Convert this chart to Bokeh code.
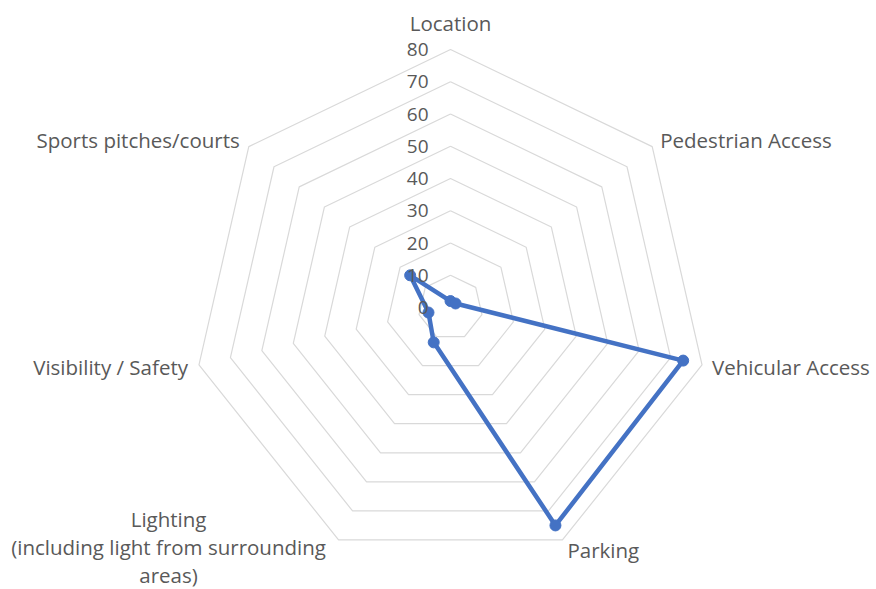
import math
from bokeh.plotting import figure
from bokeh.models import Range1d
from bokeh.core.properties import value
from bokeh.embed import file_html
from bokeh.resources import INLINE

# ---- data ----
categories = ["Location", "Pedestrian Access", "Vehicular Access", "Parking",
              "Lighting\n(including light from surrounding\nareas)",
              "Visibility / Safety", "Sports pitches/courts"]
scores = [2, 2, 74, 75, 12, 7, 16]
tick_values = [0, 10, 20, 30, 40, 50, 60, 70, 80]
tick_labels = ["0", "10", "20", "30", "40", "50", "60", "70", "80"]
r_max = 80

# ---- layout helpers ----
n = len(categories)
angles = [i * 2 * math.pi / n for i in range(n)]
px_per_unit = 3.225
cx_img, cy_img = 450, 307
W, H = 876, 589
x0 = (0 - cx_img) / px_per_unit
x1 = (W - cx_img) / px_per_unit
y1 = (cy_img - 0) / px_per_unit
y0 = (cy_img - H) / px_per_unit

p = figure(width=W, height=H, output_backend="svg", toolbar_location=None,
           x_range=Range1d(x0, x1), y_range=Range1d(y0, y1),
           x_axis_location=None, y_axis_location=None, min_border=0)
p.outline_line_color = None
p.grid.visible = False
p.background_fill_color = "white"

def pt(r, a):
    return r * math.sin(a), r * math.cos(a)

# rings
for t in tick_values[1:]:
    xs = [pt(t, a)[0] for a in angles] + [pt(t, angles[0])[0]]
    ys = [pt(t, a)[1] for a in angles] + [pt(t, angles[0])[1]]
    p.line(xs, ys, line_color="#d9d9d9", line_width=1.2)

# data series
dx = [pt(v, a)[0] for v, a in zip(scores, angles)]
dy = [pt(v, a)[1] for v, a in zip(scores, angles)]
p.line(dx + [dx[0]], dy + [dy[0]], line_color="#4472C4", line_width=4.5)
p.scatter(dx, dy, size=11, fill_color="#4472C4", line_color="#4472C4")

font = value("Open Sans")
grey = "#595959"

# tick labels
p.text(x=[0] * len(tick_values), y=tick_values, text=tick_labels,
       text_font=font, text_font_size="19px", text_color=grey,
       text_align="right", text_baseline="middle", x_offset=-22)

# category labels
offsets = [(0, -27, "center"), (8, -7, "left"), (10, 2, "left"), (5, 10, "left"),
           (-170, -21, "center"), (-11, 2, "right"), (-9, -7, "right")]
for cat, a, (ox, oy, al) in zip(categories, angles, offsets):
    vx, vy = pt(r_max, a)
    lines = cat.split("\n")
    for k, line in enumerate(lines):
        p.text(x=[vx], y=[vy], text=[line], text_font=font, text_font_size="20.5px",
               text_color=grey, text_align=al, text_baseline="middle",
               x_offset=ox, y_offset=oy + 28 * k)

open("out.html", "w").write(file_html(p, INLINE))
